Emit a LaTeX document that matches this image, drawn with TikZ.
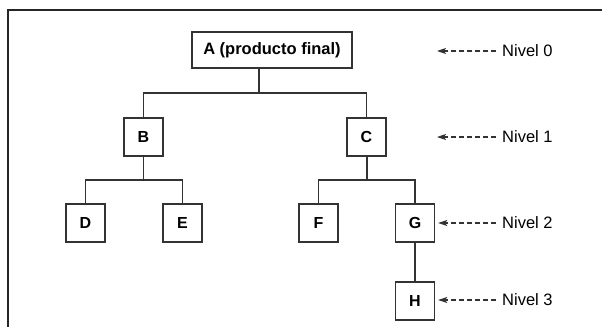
\documentclass[tikz,border=0pt]{standalone}
\usepackage{fontspec}
\setmainfont{Liberation Sans}
\usetikzlibrary{arrows.meta}
\definecolor{ink}{HTML}{333333}
\tikzset{
  part/.style={draw=ink, line width=1.4pt, fill=white, inner sep=0pt,
    minimum width=39pt, minimum height=38pt,
    font=\fontsize{16}{19}\selectfont\bfseries, text=black},
  link/.style={draw=ink, line width=1.3pt},
  levelarrow/.style={draw=ink, line width=1.2pt, dash pattern=on 5pt off 3pt,
    -{Stealth[length=9pt,width=6pt,inset=2pt]}},
  leveltext/.style={anchor=west, inner sep=0pt,
    font=\fontsize{16.5}{19}\selectfont, text=black}
}
\begin{document}
\begin{tikzpicture}[x=1pt,y=-1pt]
  \useasboundingbox (0,0) rectangle (602,327);
  % frame
  \draw[line width=2pt, black!85] (602,10) -- (8,10) -- (8,327);

  % product tree
  \node[part, minimum width=160pt, minimum height=36pt, font=\fontsize{16.5}{19}\selectfont\bfseries] (A) at (272,50) {A (producto final)};
  \node[part] (B) at (143.5,137) {B};
  \node[part] (C) at (366.5,137) {C};
  \node[part] (D) at (85.5,223) {D};
  \node[part] (E) at (182.5,223) {E};
  \node[part] (F) at (318.5,223) {F};
  \node[part] (G) at (415,223) {G};
  \node[part] (H) at (415,301) {H};

  % branch points
  \coordinate (a0) at (259,93);
  \coordinate (b0) at (143.5,180);
  \coordinate (c0) at (367,180);

  \draw[link] (a0) -- (a0 |- A.south);
  \draw[link] (B.north) |- (a0) -| (C.north);
  \draw[link] (b0) -- (B.south);
  \draw[link] (D.north) |- (b0) -| (E.north);
  \draw[link] (c0) -- (c0 |- C.south);
  \draw[link] (F.north) |- (c0) -| (G.north);
  \draw[link] (G.south) -- (H.north);

  % level labels
  \node[leveltext] (L0) at (502,51) {Nivel 0};
  \node[leveltext] (L1) at (502,137) {Nivel 1};
  \node[leveltext] (L2) at (502,223) {Nivel 2};
  \node[leveltext] (L3) at (502,300) {Nivel 3};
  \coordinate (t0) at (437,51);
  \coordinate (t1) at (437,137);
  \draw[levelarrow] ([xshift=-6pt]L0.west) -- (t0);
  \draw[levelarrow] ([xshift=-6pt]L1.west) -- (t1);
  \draw[levelarrow] ([xshift=-6pt]L2.west) -- ([xshift=3pt]G.east |- L2.west);
  \draw[levelarrow] ([xshift=-6pt]L3.west) -- ([xshift=3pt]H.east |- L3.west);
\end{tikzpicture}
\end{document}
